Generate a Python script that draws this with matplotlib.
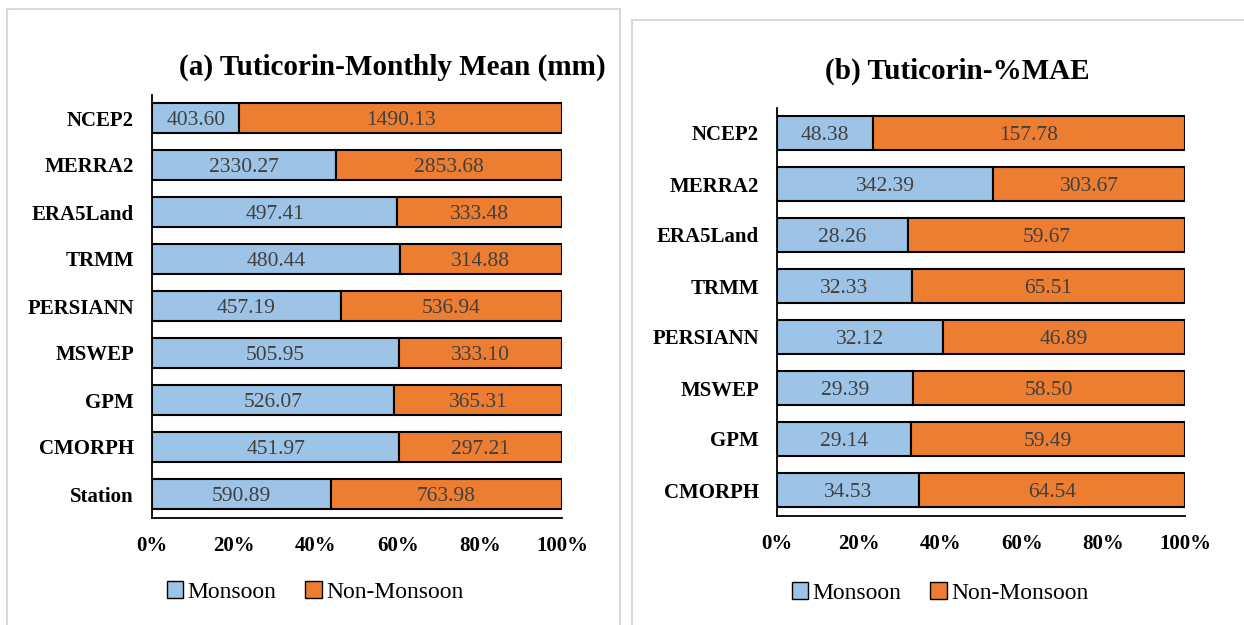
import numpy as np
import matplotlib
matplotlib.use('Agg')
import matplotlib.pyplot as plt
from matplotlib.patches import Rectangle, Patch

matplotlib.rcParams['font.family'] = ['Liberation Serif', 'DejaVu Serif']

# panel (a) monthly mean (mm)
cats_a = ['NCEP2', 'MERRA2', 'ERA5Land', 'TRMM', 'PERSIANN', 'MSWEP', 'GPM', 'CMORPH', 'Station']
mon_a = [403.60, 2330.27, 497.41, 480.44, 457.19, 505.95, 526.07, 451.97, 590.89]
non_a = [1490.13, 2853.68, 333.48, 314.88, 536.94, 333.10, 365.31, 297.21, 763.98]

# panel (b) %MAE
cats_b = ['NCEP2', 'MERRA2', 'ERA5Land', 'TRMM', 'PERSIANN', 'MSWEP', 'GPM', 'CMORPH']
mon_b = [48.38, 342.39, 28.26, 32.33, 32.12, 29.39, 29.14, 34.53]
non_b = [157.78, 303.67, 59.67, 65.51, 46.89, 58.50, 59.49, 64.54]

ticks = [0, 0.2, 0.4, 0.6, 0.8, 1.0]
tick_labels = ['0%', '20%', '40%', '60%', '80%', '100%']

blue = '#9DC3E6'
orange = '#ED7D31'
W, H = 1244, 625

fig = plt.figure(figsize=(W / 100, H / 100), dpi=100)

# panel frames
fig.patches.append(Rectangle((7 / W, -0.01), 613 / W, 1 - 9 / H + 0.01, transform=fig.transFigure,
                             fill=False, edgecolor='#d9d9d9', linewidth=1.5))
fig.patches.append(Rectangle((632 / W, -0.01), 620 / W, 1 - 20 / H + 0.01, transform=fig.transFigure,
                             fill=False, edgecolor='#d9d9d9', linewidth=1.5))


def panel(rect, cats, mon, non, title, title_xy, leg_xy):
    ax = fig.add_axes(rect)
    mon = np.array(mon)
    non = np.array(non)
    tot = mon + non
    y = np.arange(len(cats))
    fm = mon / tot
    fn = non / tot
    ax.barh(y, fm, height=0.65, color=blue, edgecolor='black', linewidth=1.5)
    ax.barh(y, fn, left=fm, height=0.65, color=orange, edgecolor='black', linewidth=1.5)
    for i in range(len(cats)):
        ax.text(fm[i] / 2, y[i], '%.2f' % mon[i], ha='center', va='center_baseline',
                fontsize=15.5, color='#404040')
        ax.text(fm[i] + fn[i] / 2, y[i], '%.2f' % non[i], ha='center', va='center_baseline',
                fontsize=15.5, color='#404040')
    ax.set_ylim(len(cats) - 0.5, -0.5)
    ax.set_xlim(0, 1)
    ax.set_yticks(y)
    ax.set_yticklabels(cats, fontsize=15, fontweight='bold')
    ax.set_xticks(ticks)
    ax.set_xticklabels(tick_labels, fontsize=15, fontweight='bold')
    ax.tick_params(length=0)
    ax.tick_params(axis='x', pad=13)
    ax.tick_params(axis='y', pad=13)
    ax.spines['top'].set_visible(False)
    ax.spines['right'].set_visible(False)
    ax.spines['left'].set_linewidth(1.3)
    ax.spines['bottom'].set_linewidth(1.3)
    fig.text(title_xy[0] / W, 1 - title_xy[1] / H, title, ha='center', va='center',
             fontsize=21, fontweight='bold')
    handles = [Patch(facecolor=blue, edgecolor='black', label='Monsoon'),
               Patch(facecolor=orange, edgecolor='black', label='Non-Monsoon')]
    fig.legend(handles=handles, loc='center', bbox_to_anchor=(leg_xy[0] / W, 1 - leg_xy[1] / H),
               ncol=2, frameon=False, fontsize=17, handlelength=0.7, handleheight=0.7,
               handletextpad=0.2, columnspacing=1.2)
    return ax


panel([152 / W, (H - 517.5) / H, 410 / W, 423 / H], cats_a, mon_a, non_a,
      '(a) Tuticorin-Monthly Mean (mm)', (392, 67), (315, 592))
panel([777 / W, (H - 515.5) / H, 408 / W, 408 / H], cats_b, mon_b, non_b,
      '(b) Tuticorin-%MAE', (957, 71), (940, 593))

fig.savefig('out.png', dpi=100)
